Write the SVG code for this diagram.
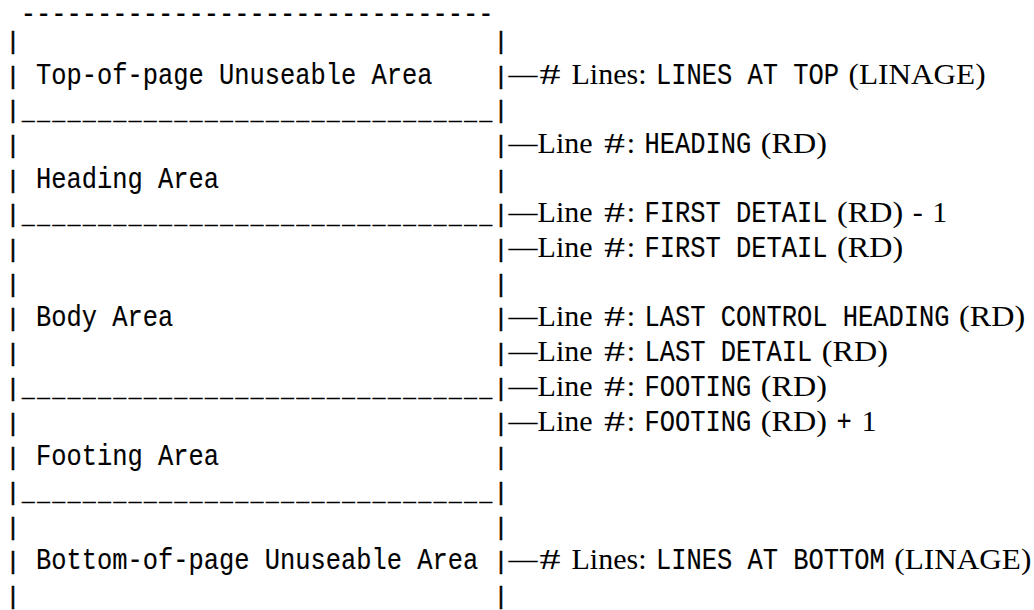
<svg xmlns="http://www.w3.org/2000/svg" width="1034" height="610" viewBox="0 0 1034 610">
<style>
.tt { font-family: "Liberation Mono", "DejaVu Sans Mono", monospace; font-size: 29px; fill: #000; stroke: #000; stroke-width: 0.15; }
.p { font-family: "Liberation Mono", "DejaVu Sans Mono", monospace; font-size: 24px; fill: #000; stroke: #000; stroke-width: 0.5; text-anchor: middle; }
.us { font-family: "Liberation Mono", "DejaVu Sans Mono", monospace; font-size: 21px; fill: #000; stroke: #000; stroke-width: 0.6; }
.rm { font-family: "Liberation Serif", "DejaVu Serif", serif; font-size: 30px; fill: #000; }
</style>
<rect width="1034" height="610" fill="#fff"/>

<g id="top-border">
<text class="tt" x="20.65" y="22.5" textLength="472.75" lengthAdjust="spacingAndGlyphs">-------------------------------</text>
</g>

<g id="area-top">
<text class="p" x="13 501" y="48.8">||</text>
<text class="p" x="13 501" y="83.5">||</text>
<text class="tt" x="35.9" y="83.5" textLength="396.5" lengthAdjust="spacingAndGlyphs">Top-of-page Unuseable Area</text>
<text class="p" x="13 501" y="118.2">||</text>
<text class="us" x="22" y="119.7" textLength="470" lengthAdjust="spacing">_______________________________</text>
</g>

<g id="area-heading">
<text class="p" x="13 501" y="152.9">||</text>
<text class="p" x="13 501" y="187.6">||</text>
<text class="tt" x="35.9" y="187.6" textLength="183" lengthAdjust="spacingAndGlyphs">Heading Area</text>
<text class="p" x="13 501" y="222.3">||</text>
<text class="us" x="22" y="223.8" textLength="470" lengthAdjust="spacing">_______________________________</text>
</g>

<g id="area-body">
<text class="p" x="13 501" y="257">||</text>
<text class="p" x="13 501" y="291.7">||</text>
<text class="p" x="13 501" y="326.4">||</text>
<text class="tt" x="35.9" y="326.4" textLength="137.25" lengthAdjust="spacingAndGlyphs">Body Area</text>
<text class="p" x="13 501" y="361.1">||</text>
<text class="p" x="13 501" y="395.8">||</text>
<text class="us" x="22" y="397.3" textLength="470" lengthAdjust="spacing">_______________________________</text>
</g>

<g id="area-footing">
<text class="p" x="13 501" y="430.5">||</text>
<text class="p" x="13 501" y="465.2">||</text>
<text class="tt" x="35.9" y="465.2" textLength="183" lengthAdjust="spacingAndGlyphs">Footing Area</text>
<text class="p" x="13 501" y="499.9">||</text>
<text class="us" x="22" y="501.4" textLength="470" lengthAdjust="spacing">_______________________________</text>
</g>

<g id="area-bottom">
<text class="p" x="13 501" y="534.6">||</text>
<text class="p" x="13 501" y="569.3">||</text>
<text class="tt" x="35.9" y="569.3" textLength="442.25" lengthAdjust="spacingAndGlyphs">Bottom-of-page Unuseable Area</text>
<text class="p" x="13 501" y="604">||</text>
</g>

<g id="connectors">
<text class="rm" x="508.6" y="83.5" textLength="29" lengthAdjust="spacingAndGlyphs">—</text>
<text class="rm" x="508.6" y="152.9" textLength="29" lengthAdjust="spacingAndGlyphs">—</text>
<text class="rm" x="508.6" y="222.3" textLength="29" lengthAdjust="spacingAndGlyphs">—</text>
<text class="rm" x="508.6" y="257" textLength="29" lengthAdjust="spacingAndGlyphs">—</text>
<text class="rm" x="508.6" y="326.4" textLength="29" lengthAdjust="spacingAndGlyphs">—</text>
<text class="rm" x="508.6" y="361.1" textLength="29" lengthAdjust="spacingAndGlyphs">—</text>
<text class="rm" x="508.6" y="395.8" textLength="29" lengthAdjust="spacingAndGlyphs">—</text>
<text class="rm" x="508.6" y="430.5" textLength="29" lengthAdjust="spacingAndGlyphs">—</text>
<text class="rm" x="508.6" y="569.3" textLength="29" lengthAdjust="spacingAndGlyphs">—</text>
</g>

<g id="label-lines-top">
<text class="rm" x="539.5" y="83.5" textLength="21" lengthAdjust="spacingAndGlyphs">#</text>
<text class="rm" x="571.5" y="83.5">Lines:</text>
<text class="tt" x="655.9" y="83.5" xml:space="preserve" textLength="183" lengthAdjust="spacingAndGlyphs">LINES AT TOP</text>
<text class="rm" x="848.6" y="83.5" textLength="137" lengthAdjust="spacingAndGlyphs">(LINAGE)</text>
</g>

<g id="label-heading">
<text class="rm" x="537.6" y="152.9">Line</text>
<text class="rm" x="604" y="152.9" textLength="21" lengthAdjust="spacingAndGlyphs">#</text>
<text class="rm" x="626.7" y="152.9">:</text>
<text class="tt" x="644.4" y="152.9" textLength="106.75" lengthAdjust="spacingAndGlyphs">HEADING</text>
<text class="rm" x="760.85" y="152.9" textLength="66" lengthAdjust="spacingAndGlyphs">(RD)</text>
</g>

<g id="label-first-detail-minus">
<text class="rm" x="537.6" y="222.3">Line</text>
<text class="rm" x="604" y="222.3" textLength="21" lengthAdjust="spacingAndGlyphs">#</text>
<text class="rm" x="626.7" y="222.3">:</text>
<text class="tt" x="644.4" y="222.3" xml:space="preserve" textLength="183" lengthAdjust="spacingAndGlyphs">FIRST DETAIL</text>
<text class="rm" x="837.1" y="222.3" textLength="66" lengthAdjust="spacingAndGlyphs">(RD)</text>
<text class="rm" x="912.8" y="222.3">-</text>
<text class="rm" x="932.2" y="222.3">1</text>
</g>

<g id="label-first-detail">
<text class="rm" x="537.6" y="257">Line</text>
<text class="rm" x="604" y="257" textLength="21" lengthAdjust="spacingAndGlyphs">#</text>
<text class="rm" x="626.7" y="257">:</text>
<text class="tt" x="644.4" y="257" xml:space="preserve" textLength="183" lengthAdjust="spacingAndGlyphs">FIRST DETAIL</text>
<text class="rm" x="837.1" y="257" textLength="66" lengthAdjust="spacingAndGlyphs">(RD)</text>
</g>

<g id="label-last-control-heading">
<text class="rm" x="537.6" y="326.4">Line</text>
<text class="rm" x="604" y="326.4" textLength="21" lengthAdjust="spacingAndGlyphs">#</text>
<text class="rm" x="626.7" y="326.4">:</text>
<text class="tt" x="644.4" y="326.4" xml:space="preserve" textLength="305" lengthAdjust="spacingAndGlyphs">LAST CONTROL HEADING</text>
<text class="rm" x="959.1" y="326.4" textLength="66" lengthAdjust="spacingAndGlyphs">(RD)</text>
</g>

<g id="label-last-detail">
<text class="rm" x="537.6" y="361.1">Line</text>
<text class="rm" x="604" y="361.1" textLength="21" lengthAdjust="spacingAndGlyphs">#</text>
<text class="rm" x="626.7" y="361.1">:</text>
<text class="tt" x="644.4" y="361.1" xml:space="preserve" textLength="167.75" lengthAdjust="spacingAndGlyphs">LAST DETAIL</text>
<text class="rm" x="821.85" y="361.1" textLength="66" lengthAdjust="spacingAndGlyphs">(RD)</text>
</g>

<g id="label-footing">
<text class="rm" x="537.6" y="395.8">Line</text>
<text class="rm" x="604" y="395.8" textLength="21" lengthAdjust="spacingAndGlyphs">#</text>
<text class="rm" x="626.7" y="395.8">:</text>
<text class="tt" x="644.4" y="395.8" textLength="106.75" lengthAdjust="spacingAndGlyphs">FOOTING</text>
<text class="rm" x="760.85" y="395.8" textLength="66" lengthAdjust="spacingAndGlyphs">(RD)</text>
</g>

<g id="label-footing-plus">
<text class="rm" x="537.6" y="430.5">Line</text>
<text class="rm" x="604" y="430.5" textLength="21" lengthAdjust="spacingAndGlyphs">#</text>
<text class="rm" x="626.7" y="430.5">:</text>
<text class="tt" x="644.4" y="430.5" textLength="106.75" lengthAdjust="spacingAndGlyphs">FOOTING</text>
<text class="rm" x="760.85" y="430.5" textLength="66" lengthAdjust="spacingAndGlyphs">(RD)</text>
<text class="tt" x="836.55" y="430.5" textLength="15.25" lengthAdjust="spacingAndGlyphs">+</text>
<text class="rm" x="861.5" y="430.5">1</text>
</g>

<g id="label-lines-bottom">
<text class="rm" x="539.5" y="569.3" textLength="21" lengthAdjust="spacingAndGlyphs">#</text>
<text class="rm" x="571.5" y="569.3">Lines:</text>
<text class="tt" x="655.9" y="569.3" xml:space="preserve" textLength="228.75" lengthAdjust="spacingAndGlyphs">LINES AT BOTTOM</text>
<text class="rm" x="894.35" y="569.3" textLength="137" lengthAdjust="spacingAndGlyphs">(LINAGE)</text>
</g>
</svg>
